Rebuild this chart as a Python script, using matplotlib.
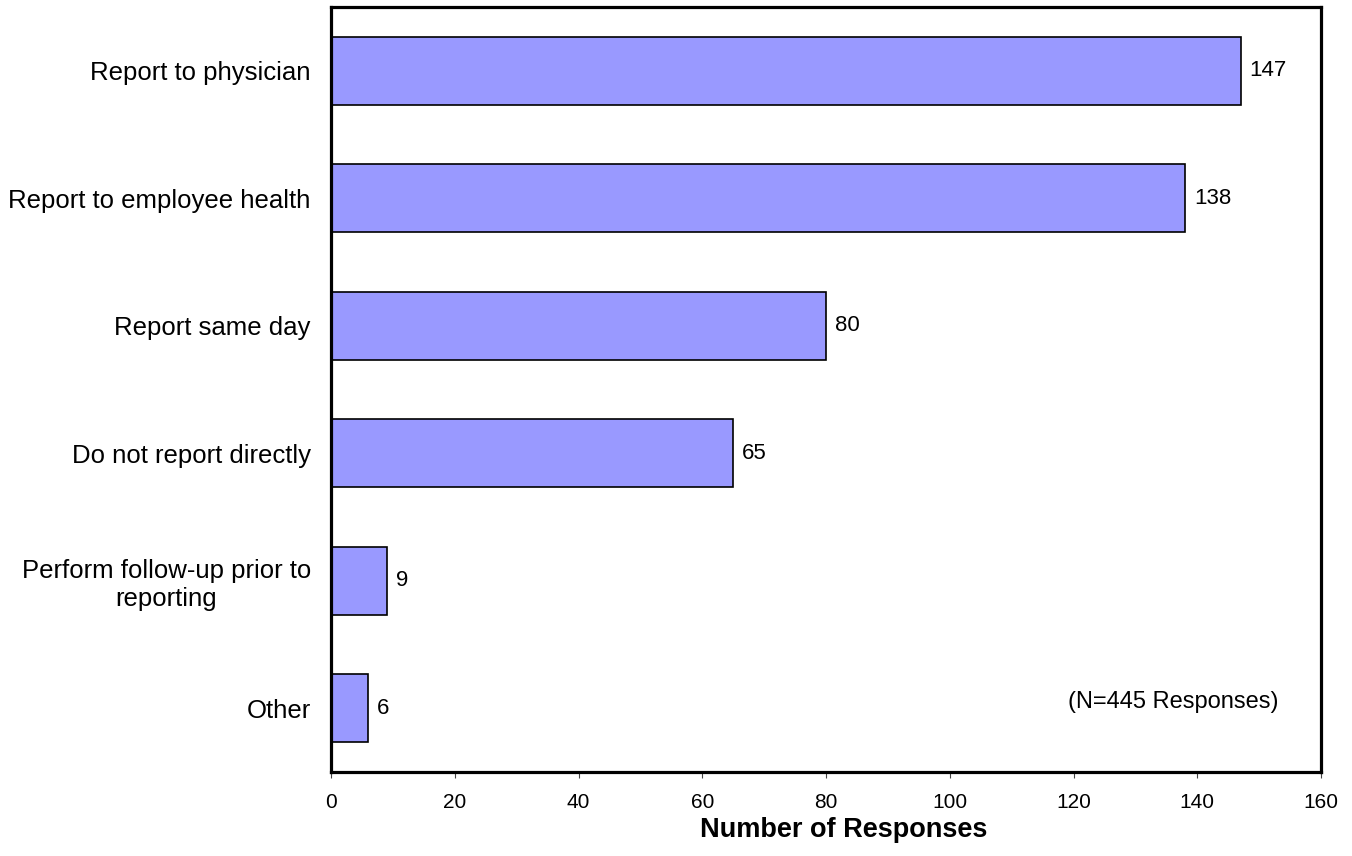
import matplotlib
matplotlib.use("Agg")
import matplotlib.pyplot as plt

categories = ["Report to physician", "Report to employee health", "Report same day",
              "Do not report directly", "Perform follow-up prior to\nreporting", "Other"]
values = [147, 138, 80, 65, 9, 6]
xticks = [0, 20, 40, 60, 80, 100, 120, 140, 160]
note = "(N=445 Responses)"
xlabel = "Number of Responses"

plt.rcParams['font.family'] = ['Liberation Sans', 'DejaVu Sans']

fig = plt.figure(figsize=(13.52, 8.56), dpi=100)
ax = fig.add_axes([331/1352, 1 - 772/856, 990/1352, 765/856])

pos = list(range(len(categories)))
bars = ax.barh(pos, values, height=0.53, color='#9999FF', edgecolor='black', linewidth=1.2)
ax.set_ylim(len(categories) - 0.5, -0.5)
ax.set_xlim(0, 160)

for p, v in zip(pos, values):
    ax.annotate(str(v), xy=(v, p), xytext=(6.5, 0), textcoords='offset points',
                ha='left', va='center', fontsize=16)

ax.set_yticks(pos)
ax.set_yticklabels(categories, fontsize=18.5)
for lab in ax.get_yticklabels():
    lab.set_multialignment('center')
ax.tick_params(axis='y', length=0, pad=14.5)

ax.set_xticks(xticks)
ax.set_xticklabels([str(t) for t in xticks], fontsize=15)
ax.tick_params(axis='x', direction='out', length=4, width=0.8, color='#444444', pad=11)

ax.set_xlabel(xlabel, fontsize=19.5, fontweight='bold')
ax.xaxis.set_label_coords(0.518, -0.0594)
ax.xaxis.label.set_va('top')

for s in ax.spines.values():
    s.set_linewidth(2.3)
    s.set_color('black')

ax.text(153.2, 4.95, note, ha='right', va='center', fontsize=17)

fig.savefig("out.png", dpi=100)
